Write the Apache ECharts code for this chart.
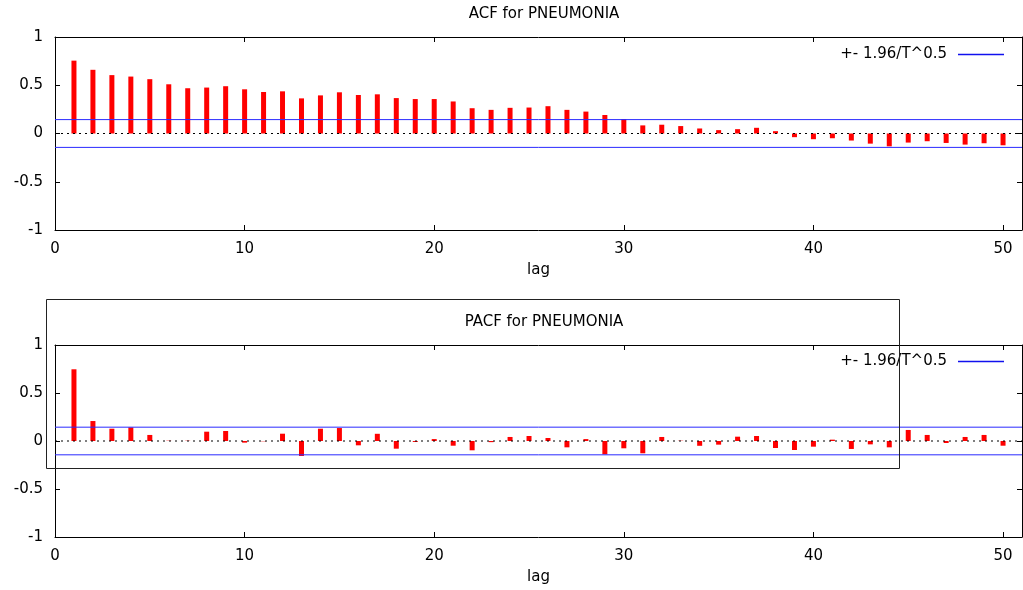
<!DOCTYPE html>
<html>
<head>
<meta charset="utf-8">
<script src="https://cdn.jsdelivr.net/npm/echarts@6/dist/echarts.min.js"></script>
<style>
html,body{margin:0;padding:0;background:#fff;}
#chart{width:1023px;height:590px;}
</style>
</head>
<body>
<div id="chart"></div>
<script>
const lags = [1,2,3,4,5,6,7,8,9,10,11,12,13,14,15,16,17,18,19,20,21,22,23,24,25,26,27,28,29,30,31,32,33,34,35,36,37,38,39,40,41,42,43,44,45,46,47,48,49,50];
const acfValues = [0.755,0.66,0.605,0.59,0.563,0.51,0.469,0.476,0.49,0.458,
  0.43,0.437,0.364,0.395,0.427,0.399,0.406,0.367,0.357,0.357,
  0.332,0.262,0.245,0.266,0.269,0.283,0.245,0.227,0.192,0.150,
  0.084,0.091,0.077,0.052,0.035,0.045,0.059,0.024,-0.038,-0.059,
  -0.049,-0.073,-0.105,-0.133,-0.094,-0.080,-0.098,-0.115,-0.101,-0.122];
const pacfValues = [0.747,0.208,0.128,0.142,0.063,0.003,0.003,0.097,0.104,-0.017,
  -0.003,0.076,-0.156,0.128,0.135,-0.045,0.075,-0.08,-0.01,0.02,
  -0.049,-0.097,-0.012,0.042,0.052,0.031,-0.066,0.02,-0.139,-0.076,
  -0.128,0.042,0.003,-0.05,-0.038,0.045,0.052,-0.073,-0.094,-0.059,
  0.014,-0.083,-0.035,-0.066,0.115,0.063,-0.021,0.042,0.063,-0.049];
const band = 0.144;
const xTicks = [0, 10, 20, 30, 40, 50];
const yTicks = [-1, -0.5, 0, 0.5, 1];
const titles = ['ACF for PNEUMONIA', 'PACF for PNEUMONIA'];
const bandName = '+- 1.96/T^0.5';
const xLabel = 'lag';
const xMin = 0, xMax = 51;

const FONT = 'DejaVu Sans';
const FS = 15;
const BLUE = '#2a2aff';
const chart = echarts.init(document.getElementById('chart'), null, {renderer: 'canvas'});

function xAxes(gi) {
  return [{
    type: 'value', gridIndex: gi, min: xMin, max: xMax, interval: 10, position: 'bottom',
    name: xLabel, nameLocation: 'middle', nameGap: 33,
    nameTextStyle: {fontFamily: FONT, fontSize: FS, color: '#000'},
    axisLine: {show: true, onZero: false, lineStyle: {color: '#000', width: 1}},
    axisTick: {show: true, inside: true, length: 5, lineStyle: {color: '#000'}},
    axisLabel: {margin: 12, fontFamily: FONT, fontSize: FS, color: '#000', showMaxLabel: false,
      formatter: v => (xTicks.indexOf(v) >= 0 ? String(v) : '')},
    splitLine: {show: false}
  }, {
    type: 'value', gridIndex: gi, min: xMin, max: xMax, interval: 10, position: 'top',
    axisLine: {show: true, onZero: false, lineStyle: {color: '#000', width: 1}},
    axisTick: {show: true, inside: true, length: 5, lineStyle: {color: '#000'}},
    axisLabel: {show: false}, splitLine: {show: false}
  }];
}
function yAxes(gi) {
  return [{
    type: 'value', gridIndex: gi, min: yTicks[0], max: yTicks[yTicks.length - 1], interval: 0.5, position: 'left',
    axisLine: {show: true, onZero: false, lineStyle: {color: '#000', width: 1}},
    axisTick: {show: true, inside: true, length: 5, lineStyle: {color: '#000'}},
    axisLabel: {margin: 12, fontFamily: FONT, fontSize: FS, color: '#000'},
    splitLine: {show: false}
  }, {
    type: 'value', gridIndex: gi, min: yTicks[0], max: yTicks[yTicks.length - 1], interval: 0.5, position: 'right',
    axisLine: {show: true, onZero: false, lineStyle: {color: '#000', width: 1}},
    axisTick: {show: true, inside: true, length: 5, lineStyle: {color: '#000'}},
    axisLabel: {show: false}, splitLine: {show: false}
  }];
}
function panelSeries(values, xi, yi) {
  return [{
    type: 'bar', xAxisIndex: xi, yAxisIndex: yi, barWidth: 5, silent: true,
    itemStyle: {color: '#ff0000'},
    data: lags.map((l, i) => [l, values[i]])
  }, {
    type: 'line', xAxisIndex: xi, yAxisIndex: yi, silent: true, symbol: 'none',
    lineStyle: {color: '#000', width: 1, type: [2, 4]},
    data: [[xMin, 0], [xMax, 0]]
  }, {
    name: bandName, type: 'line', xAxisIndex: xi, yAxisIndex: yi, silent: true, symbol: 'none',
    color: BLUE, itemStyle: {color: BLUE}, lineStyle: {color: BLUE, width: 1},
    data: [[xMin, band], [xMax, band]]
  }, {
    name: bandName, type: 'line', xAxisIndex: xi, yAxisIndex: yi, silent: true, symbol: 'none',
    color: BLUE, itemStyle: {color: BLUE}, lineStyle: {color: BLUE, width: 1},
    data: [[xMin, -band], [xMax, -band]]
  }];
}
function legendAt(top) {
  return {
    data: [bandName],
    icon: 'rect',
    right: 14, top: top, align: 'right', itemWidth: 46, itemHeight: 1.5,
    itemStyle: {color: '#1010ee'},
    lineStyle: {color: '#1010ee'},
    selectedMode: false,
    textStyle: {fontFamily: FONT, fontSize: FS, color: '#000', padding: [0, 6, 0, 0]}
  };
}

const option = {
  animation: false,
  backgroundColor: '#fff',
  title: [
    {text: titles[0], left: 539, top: 2, textAlign: 'center',
      textStyle: {fontFamily: FONT, fontSize: FS, fontWeight: 'normal', color: '#000'}},
    {text: titles[1], left: 539, top: 310, textAlign: 'center',
      textStyle: {fontFamily: FONT, fontSize: FS, fontWeight: 'normal', color: '#000'}}
  ],
  legend: [legendAt(42), legendAt(349)],
  grid: [
    {left: 55, right: 1, top: 37, height: 193},
    {left: 55, right: 1, top: 345, height: 192}
  ],
  xAxis: xAxes(0).concat(xAxes(1)),
  yAxis: yAxes(0).concat(yAxes(1)),
  series: panelSeries(acfValues, 0, 0).concat(panelSeries(pacfValues, 2, 2)),
  graphic: [{
    type: 'rect', z: 100, silent: true,
    shape: {x: 46.5, y: 299.5, width: 853, height: 169},
    style: {fill: 'none', stroke: '#222', lineWidth: 1}
  }]
};
chart.setOption(option);
</script>
</body>
</html>
